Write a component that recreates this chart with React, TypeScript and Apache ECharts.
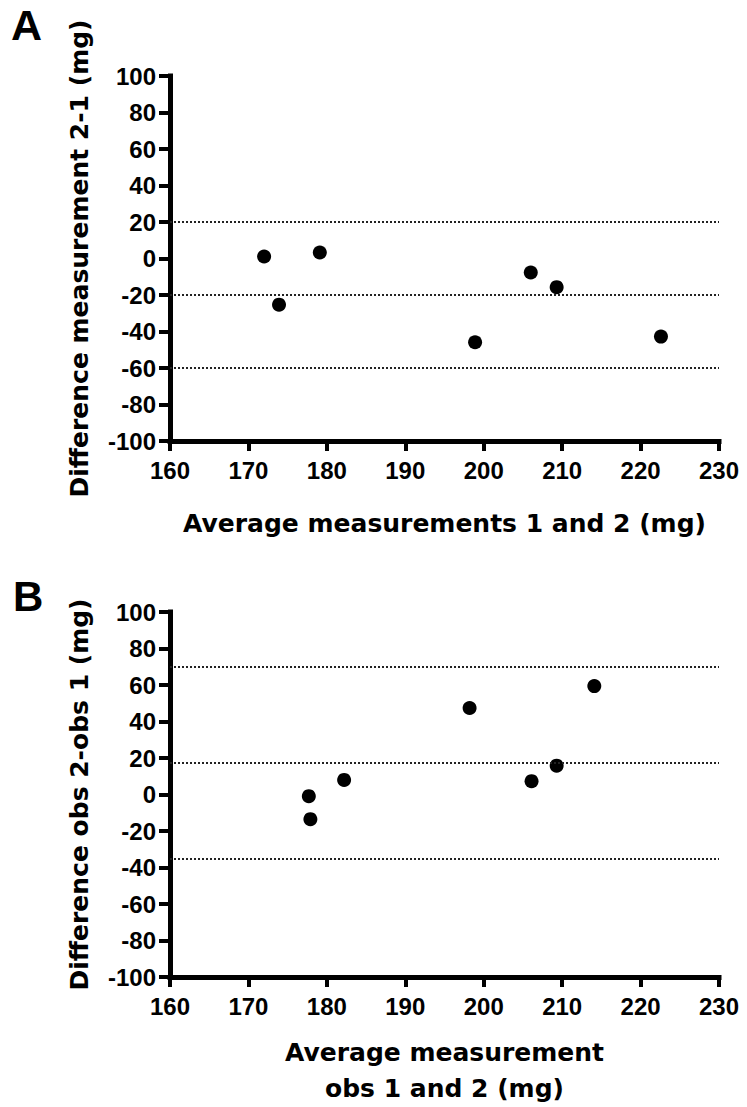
import React, { useEffect, useRef } from "react";
import * as echarts from "echarts";

// Panel A: Average measurements 1 and 2 (mg) vs Difference measurement 2-1 (mg)
const aAverage = [172.0, 173.9, 179.1, 198.9, 206.0, 209.3, 222.6];
const aDifference = [1.1, -25.3, 3.3, -45.9, -7.7, -15.7, -42.8];
const aRefLines = [20.4, -19.6, -59.6];

// Panel B: Average measurement obs 1 and 2 (mg) vs Difference obs 2-obs 1 (mg)
const bAverage = [177.7, 177.9, 182.2, 198.2, 206.1, 209.3, 214.1];
const bDifference = [-0.9, -13.5, 8.0, 47.4, 7.3, 15.8, 59.4];
const bRefLines = [69.8, 17.5, -35.0];

const xMin = 160;
const xMax = 230;
const xStep = 10;
const yMin = -100;
const yMax = 100;
const yStep = 20;

const panelLetters = ["A", "B"];
const xTitles = ["Average measurements 1 and 2 (mg)", "Average measurement\nobs 1 and 2 (mg)"];
const yTitles = ["Difference measurement 2-1 (mg)", "Difference obs 2-obs 1 (mg)"];

const TITLE_FONT = "DejaVu Sans";
const TICK_FONT = "Liberation Sans";

function makeXAxis(i: number, nameGap: number) {
  return {
    type: "value",
    gridIndex: i,
    min: xMin,
    max: xMax,
    interval: xStep,
    name: xTitles[i],
    nameLocation: "middle",
    nameGap,
    nameTextStyle: {
      fontFamily: TITLE_FONT,
      fontWeight: "bold",
      fontSize: 25,
      color: "#000",
      lineHeight: 36,
    },
    axisLine: { show: true, onZero: false, lineStyle: { color: "#000", width: 5, cap: "square" } },
    axisTick: { show: true, inside: false, length: 10, lineStyle: { color: "#000", width: 4 } },
    axisLabel: {
      fontFamily: TICK_FONT,
      fontWeight: "bold",
      fontSize: 24,
      color: "#000",
      margin: 17,
    },
    splitLine: { show: false },
  };
}

function makeYAxis(i: number) {
  return {
    type: "value",
    gridIndex: i,
    min: yMin,
    max: yMax,
    interval: yStep,
    name: yTitles[i],
    nameLocation: "middle",
    nameRotate: 90,
    nameGap: 78,
    nameTextStyle: {
      fontFamily: TITLE_FONT,
      fontWeight: "bold",
      fontSize: 25,
      color: "#000",
    },
    axisLine: { show: true, onZero: false, lineStyle: { color: "#000", width: 5, cap: "square" } },
    axisTick: { show: true, inside: false, length: 11, lineStyle: { color: "#000", width: 4 } },
    axisLabel: {
      fontFamily: TICK_FONT,
      fontWeight: "bold",
      fontSize: 24,
      color: "#000",
      margin: 14,
    },
    splitLine: { show: false },
  };
}

function makeSeries(i: number, xs: number[], ys: number[], lines: number[]) {
  return {
    type: "scatter",
    xAxisIndex: i,
    yAxisIndex: i,
    symbol: "circle",
    symbolSize: 14,
    itemStyle: { color: "#000", opacity: 1 },
    data: xs.map((x, k) => [x, ys[k]]),
    markLine: {
      silent: true,
      symbol: "none",
      label: { show: false },
      lineStyle: { color: "#222", width: 2, type: [2, 2], opacity: 1 },
      data: lines.map((v) => ({ yAxis: v })),
    },
  };
}

export default function App() {
  const ref = useRef<HTMLDivElement>(null);

  useEffect(() => {
    document.body.style.margin = "0";
    if (!ref.current) return;
    const chart = echarts.init(ref.current, null, { renderer: "svg" });
    chart.setOption({
      animation: false,
      backgroundColor: "#fff",
      grid: [
        { left: 170, width: 549, top: 76, height: 365 },
        { left: 170, width: 549, top: 612, height: 366 },
      ],
      xAxis: [makeXAxis(0, 64), makeXAxis(1, 57)],
      yAxis: [makeYAxis(0), makeYAxis(1)],
      series: [
        makeSeries(0, aAverage, aDifference, aRefLines),
        makeSeries(1, bAverage, bDifference, bRefLines),
      ],
      graphic: [
        {
          type: "text",
          left: 11,
          top: 3,
          style: { text: panelLetters[0], font: 'bold 43px "Liberation Sans"', fill: "#000" },
        },
        {
          type: "text",
          left: 13,
          top: 575,
          style: { text: panelLetters[1], font: 'bold 42px "Liberation Sans"', fill: "#000" },
        },
      ],
    });
    return () => chart.dispose();
  }, []);

  return <div ref={ref} style={{ width: 747, height: 1107 }} />;
}
